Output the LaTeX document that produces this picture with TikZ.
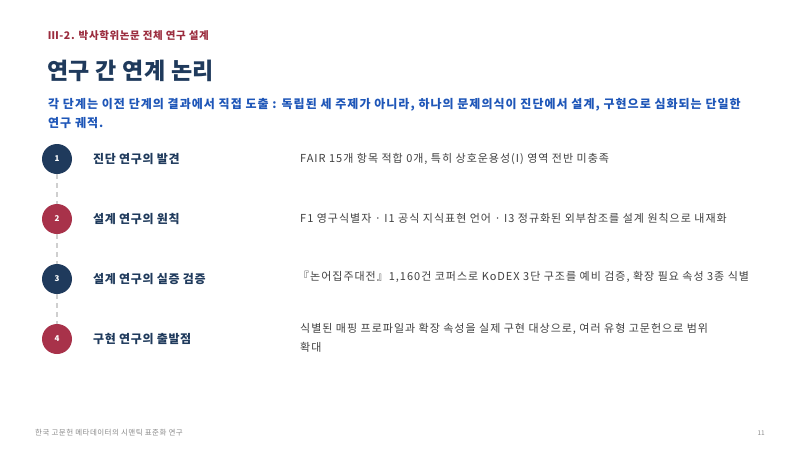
\documentclass[tikz,border=0pt]{standalone}
\usepackage{fontspec}
\setmainfont{Noto Sans CJK KR}
\usetikzlibrary{positioning}
\definecolor{navy}{HTML}{1F3A5C}
\definecolor{wine}{HTML}{A8324A}
\definecolor{headred}{HTML}{9B2C3E}
\definecolor{leadblue}{HTML}{1E56B8}
\definecolor{bodygray}{HTML}{404040}
\definecolor{footgray}{HTML}{8A8A8A}
\definecolor{dashgray}{HTML}{CFCFCF}

\begin{document}
\begin{tikzpicture}[x=1pt,y=-1pt,
  stepdot/.style={circle,minimum size=30pt,inner sep=0pt,text=white,font=\fontsize{8}{8}\selectfont\bfseries},
  steptitle/.style={anchor=west,inner sep=0pt,text=navy,font=\fontsize{12}{14}\selectfont\bfseries\addfontfeature{LetterSpace=5}},
  stepnote/.style={anchor=west,inner sep=0pt,text=bodygray,align=left,font=\fontsize{11}{19}\selectfont\addfontfeature{LetterSpace=9}},
  link/.style={dashgray,line width=1.6pt,dash pattern=on 5pt off 4pt}]
				  \useasboundingbox (0,0) rectangle (800,450);
				  \fill[white] (0,0) rectangle (800,450);
				  % header
				  \node[anchor=west,inner sep=0pt,text=headred,font=\fontsize{10.5}{12}\selectfont\bfseries\addfontfeature{LetterSpace=6}] (sect) at (48,36) {Ⅲ-2. 박사학위논문 전체 연구 설계};
				  \node[anchor=west,inner sep=0pt,text=navy,font=\fontsize{23}{26}\selectfont\bfseries\addfontfeature{LetterSpace=2}] (title) at (47,71) {연구 간 연계 논리};
				  \node[anchor=north west,inner sep=0pt,text=leadblue,align=left,font=\fontsize{12}{19}\selectfont\bfseries\addfontfeature{LetterSpace=8.5}] (lead) at (48,98)
				    {각 단계는 이전 단계의 결과에서 직접 도출 : 독립된 세 주제가 아니라, 하나의 문제의식이 진단에서 설계, 구현으로 심화되는 단일한\\연구 궤적.};

				  % steps
				  \node[stepdot,fill=navy] (s1) at (57,159) {1};
				  \node[stepdot,fill=wine] (s2) at (57,219) {2};
				  \node[stepdot,fill=navy] (s3) at (57,279) {3};
				  \node[stepdot,fill=wine] (s4) at (57,339) {4};
				  \draw[link] (s1) -- (s2);
				  \draw[link] (s2) -- (s3);
				  \draw[link] (s3) -- (s4);

				  \node[steptitle] (t1) at (93,159) {진단 연구의 발견};
				  \node[steptitle] (t2) at (93,219) {설계 연구의 원칙};
				  \node[steptitle] (t3) at (93,279) {설계 연구의 실증 검증};
				  \node[steptitle] (t4) at (93,339) {구현 연구의 출발점};

				  \node[stepnote] (n1) at (300,159) {FAIR 15개 항목 적합 0개, 특히 상호운용성(I) 영역 전반 미충족};
				  \node[stepnote] (n2) at (300,218) {F1 영구식별자 · I1 공식 지식표현 언어 · I3 정규화된 외부참조를 설계 원칙으로 내재화};
				  \node[stepnote] (n3) at (298,277) {『논어집주대전』1,160건 코퍼스로 KoDEX 3단 구조를 예비 검증, 확장 필요 속성 3종 식별};
				  \node[stepnote] (n4) at (300,338) {식별된 매핑 프로파일과 확장 속성을 실제 구현 대상으로, 여러 유형 고문헌으로 범위\\확대};

				  % footer
				  \node[anchor=west,inner sep=0pt,text=footgray,font=\fontsize{7.5}{8}\selectfont\addfontfeature{LetterSpace=6}] (foot) at (35,433) {한국 고문헌 메타데이터의 시맨틱 표준화 연구};
				  \node[anchor=east,inner sep=0pt,text=footgray,font=\fontsize{6.5}{8}\selectfont] (page) at (765,433) {11};
\end{tikzpicture}
\end{document}
